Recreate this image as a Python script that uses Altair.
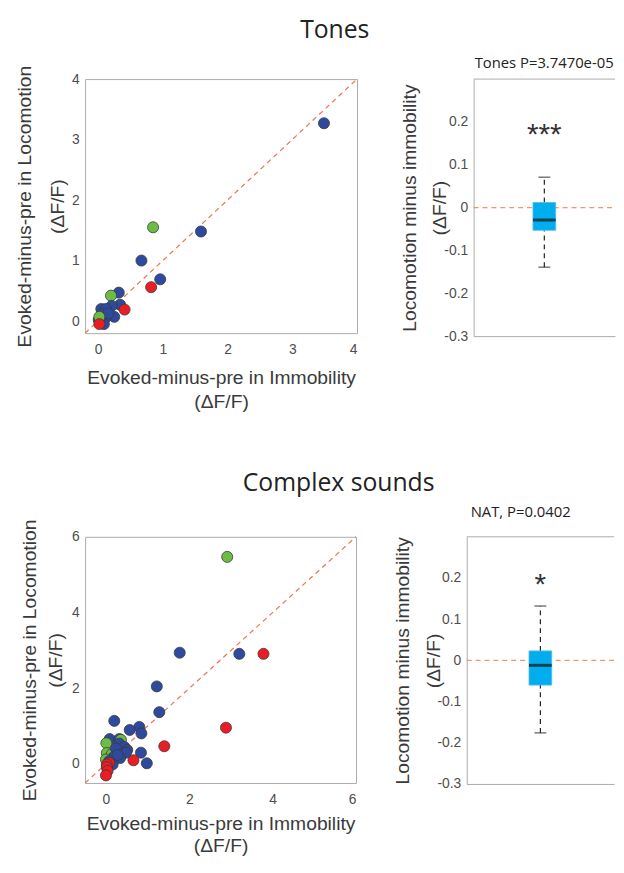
import altair as alt
import pandas as pd

# ---------------- data ----------------
# Tones scatter: immobility (x) vs locomotion (y), group colour
tones_x = [3.49, 1.59, 0.85, 0.67, 0.96, 0.82, 0.32, 0.20, 0.34, 0.21, 0.05, 0.12, 0.25, 0.12, 0.06,
           0.16, 0.09, 0.01, 0.41, 0.02, 0.02]
tones_y = [3.27, 1.48, 1.55, 1.00, 0.69, 0.56, 0.47, 0.42, 0.27, 0.25, 0.20, 0.20, 0.07, 0.06, 0.11,
           0.13, -0.05, 0.02, 0.19, 0.07, -0.05]
tones_grp = ["blue", "blue", "green", "blue", "blue", "red", "blue", "green", "blue", "blue", "blue", "blue",
             "blue", "blue", "blue", "blue", "blue", "blue", "red", "green", "red"]

# Complex sounds scatter
nat_x = [2.91, 1.77, 3.20, 3.78, 1.22, 1.28, 2.88, 0.20, 0.80, 0.57, 0.85, 1.40, 0.84, 0.66, 0.98,
         0.09, 0.32, 0.36, 0.01, 0.32, 0.44, 0.51, 0.48, 0.34, 0.02, 0.14, 0.24, 0.18, 0.28, 0.16,
         0.00, 0.08, 0.08, 0.02, 0.02, 0.04, 0.00]
nat_y = [5.47, 2.94, 2.91, 2.91, 2.05, 1.37, 0.96, 1.14, 0.98, 0.90, 0.81, 0.47, 0.30, 0.10, 0.02,
         0.66, 0.66, 0.64, 0.55, 0.54, 0.45, 0.37, 0.30, 0.16, 0.29, 0.26, 0.41, 0.18, 0.24, -0.01,
         0.12, 0.08, 0.03, -0.01, -0.08, -0.18, -0.30]
nat_grp = ["green", "blue", "blue", "red", "blue", "blue", "red", "blue", "blue", "blue", "blue", "red",
           "blue", "red", "blue", "blue", "blue", "green", "green", "blue", "blue", "blue", "blue", "blue",
           "green", "green", "blue", "blue", "blue", "blue", "green", "blue", "red", "red", "red", "red", "red"]

# Box plot summaries (locomotion minus immobility)
tones_box = {"lo": -0.139, "q1": -0.053, "med": -0.029, "q3": 0.012, "hi": 0.071, "star": 0.175}
nat_box = {"lo": -0.176, "q1": -0.060, "med": -0.012, "q3": 0.023, "hi": 0.132, "star": 0.19}

grp_domain = ["blue", "green", "red"]
grp_colors = ["#2E4A9E", "#6CBD45", "#EC1C24"]

FONT = "Liberation Sans"
FRAME = "#ababab"


def scatter(xs, ys, grp, lo, hi, ticks, w, h, lh, tx, xlh, xpad):
    df = pd.DataFrame({"x": xs, "y": ys, "g": grp})
    diag = pd.DataFrame({"x": [lo, hi], "y": [lo, hi]})
    xsc = alt.Scale(domain=[lo, hi], nice=False, zero=False)
    ysc = alt.Scale(domain=[lo, hi], nice=False, zero=False)
    line = alt.Chart(diag).mark_line(color="#EE7355", strokeDash=[5, 4], strokeWidth=1.2).encode(
        x=alt.X("x:Q", scale=xsc,
                axis=alt.Axis(values=ticks, format="d",
                              title=["Evoked-minus-pre in Immobility", "(\u0394F/F)"],
                              labelPadding=10, titlePadding=xpad, titleLineHeight=xlh)),
        y=alt.Y("y:Q", scale=ysc,
                axis=alt.Axis(values=ticks, format="d",
                              title=["Evoked-minus-pre in Locomotion", "(\u0394F/F)"],
                              labelPadding=6, titleX=tx, titleBaseline="bottom", titleLineHeight=lh)),
    )
    pts = alt.Chart(df).mark_circle(size=125, opacity=1, stroke="#3a3a3a", strokeWidth=0.8).encode(
        x="x:Q", y="y:Q",
        fill=alt.Fill("g:N", scale=alt.Scale(domain=grp_domain, range=grp_colors), legend=None),
    )
    return alt.layer(line, pts).properties(
        width=w, height=h, view=alt.ViewBackground(stroke=FRAME, strokeWidth=1))


def boxpanel(st, title, stars, w, h, toff, tdx):
    one = pd.DataFrame({"x": [1.0], **{k: [v] for k, v in st.items()}})
    xsc = alt.Scale(domain=[0.5, 1.5], nice=False, zero=False)
    ysc = alt.Scale(domain=[-0.3, 0.3], nice=False, zero=False)
    base = alt.Chart(one)
    zero = base.mark_rule(color="#F3936F", strokeDash=[5, 4], strokeWidth=1.1).encode(
        x=alt.value(0), x2=alt.value(w),
        y=alt.Y("zero:Q", scale=ysc,
                axis=alt.Axis(values=[-0.3, -0.2, -0.1, 0, 0.1, 0.2],
                              labelExpr="'' + (round(datum.value*10)/10)",
                              title=["Locomotion minus immobility", "(\u0394F/F)"],
                              labelPadding=6, titleX=-55, titleBaseline="bottom", titleLineHeight=31,
                              domain=True, domainColor=FRAME)),
    ).transform_calculate(zero="0")
    whisk_lo = base.mark_rule(color="#222", strokeDash=[5, 4], strokeWidth=1.2).encode(
        x=alt.X("x:Q", scale=xsc, axis=alt.Axis(labels=False, ticks=False, title=None,
                                                domain=True, domainColor=FRAME)),
        y=alt.Y("lo:Q", scale=ysc), y2="q1:Q")
    whisk_hi = base.mark_rule(color="#222", strokeDash=[5, 4], strokeWidth=1.2).encode(
        x="x:Q", y=alt.Y("q3:Q", scale=ysc), y2="hi:Q")
    cap_lo = base.mark_tick(orient="horizontal", size=12, thickness=1.3, color="#222").encode(
        x="x:Q", y=alt.Y("lo:Q", scale=ysc))
    cap_hi = base.mark_tick(orient="horizontal", size=12, thickness=1.3, color="#222").encode(
        x="x:Q", y=alt.Y("hi:Q", scale=ysc))
    box = base.mark_bar(size=23, color="#00AEEF", stroke="#5BB8E8", strokeWidth=0.8).encode(
        x="x:Q", y=alt.Y("q1:Q", scale=ysc), y2="q3:Q")
    med = base.mark_tick(orient="horizontal", size=23, thickness=3, color="#111").encode(
        x="x:Q", y=alt.Y("med:Q", scale=ysc))
    star = base.mark_text(text=stars, font=FONT, fontSize=30, color="#333", baseline="middle", dy=3).encode(
        x="x:Q", y=alt.Y("star:Q", scale=ysc))
    top = base.mark_rule(color=FRAME, strokeWidth=1).encode(
        x=alt.value(0), x2=alt.value(w), y=alt.value(0))
    return alt.layer(zero, whisk_lo, whisk_hi, cap_lo, cap_hi, box, med, star, top).properties(
        width=w, height=h,
        title=alt.TitleParams(title, anchor="start", frame="group", font="Open Sans", fontSize=15,
                              fontWeight="normal", color="#222", offset=toff, dx=tdx),
    )


row1 = alt.hconcat(
    scatter(tones_x, tones_y, tones_grp, -0.2, 4.0, [0, 1, 2, 3, 4], 275, 257, 33, -51, 24, 12),
    boxpanel(tones_box, "Tones P=3.7470e-05", "***", 143, 260, 8, 1),
    spacing=39,
).properties(title=alt.TitleParams("Tones", anchor="start", dx=289,
                                   font="Open Sans", fontSize=25, fontWeight="normal", color="#222",
                                   offset=13))

row2 = alt.hconcat(
    scatter(nat_x, nat_y, nat_grp, -0.5, 6.0, [0, 2, 4, 6], 274, 249, 26, -46, 22, 8),
    boxpanel(nat_box, "NAT, P=0.0402", "*", 149, 250, 17, 4),
    spacing=33,
).properties(title=alt.TitleParams("Complex sounds", anchor="start", dx=226,
                                   font="Open Sans", fontSize=25, fontWeight="normal", color="#222",
                                   offset=9))

chart = alt.vconcat(row1, row2, spacing=60).properties(
    padding={"left": 6, "top": 5, "right": 0, "bottom": -1}
).configure_view(strokeWidth=0).configure_axis(
    grid=False, ticks=False, domain=False,
    labelFont=FONT, labelFontSize=14, labelColor="#4d4d4d",
    titleFont=FONT, titleFontSize=19.5, titleFontWeight="normal", titleColor="#3a3a3a",
).configure_title(font="Open Sans")

chart.save("out.html", embed_options={"renderer": "svg", "actions": False})
